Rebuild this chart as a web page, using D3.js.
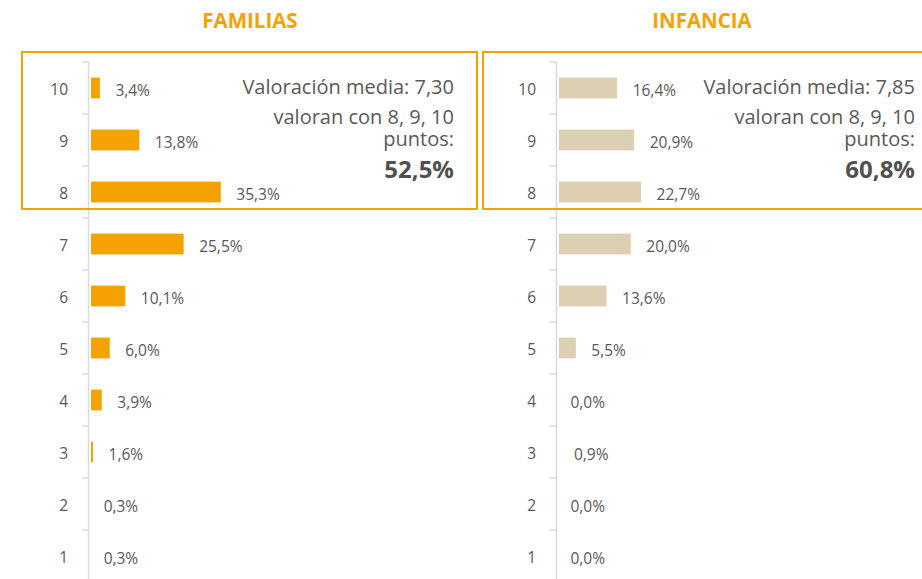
<!DOCTYPE html>
<html>
<head>
<meta charset="utf-8">
<script src="https://cdn.jsdelivr.net/npm/d3@7"></script>
<style>
  body { margin: 0; background: #fff; }
  text { font-family: "Open Sans", sans-serif; }
</style>
</head>
<body>
<script>
// datos
var categories = ["10", "9", "8", "7", "6", "5", "4", "3", "2", "1"];
var familias = [3.4, 13.8, 35.3, 25.5, 10.1, 6.0, 3.9, 1.6, 0.3, 0.3];
var infancia = [16.4, 20.9, 22.7, 20.0, 13.6, 5.5, 0.0, 0.9, 0.0, 0.0];
var titles = ["FAMILIAS", "INFANCIA"];
var medias = ["7,30", "7,85"];
var top3 = ["52,5%", "60,8%"];

var locale = d3.formatLocale({decimal: ",", thousands: ".", grouping: [3], currency: ["", "€"]});
var fmt = locale.format(".1f");

var orange = "#f5a200";
var beige = "#ddcfb2";
var grey = "#595959";

var svg = d3.select("body")
            .append("svg")
            .attr("width", 922)
            .attr("height", 579);

// posiciones de cada panel
var panels = [
    {values: familias, color: orange, x0: 87, box: 22, titleX: 250, textX: 454},
    {values: infancia, color: beige, x0: 555, box: 483, titleX: 702, textX: 915}
];

var y = d3.scaleBand()
    .domain(categories)
    .range([62, 582])
    .paddingInner(0.6)
    .paddingOuter(0.3);

panels.forEach(function(p, i) {
    var x = d3.scaleLinear().domain([0, 100]).range([p.x0, p.x0 + 379]);
    var g = svg.append("g");

    // titulo
    g.append("text")
        .attr("x", p.titleX)
        .attr("y", 28)
        .attr("text-anchor", "middle")
        .attr("font-size", 20.5)
        .attr("font-weight", 700)
        .attr("fill", orange)
        .text(titles[i]);

    // eje
    g.append("line")
        .attr("x1", x(0) + 1.5)
        .attr("x2", x(0) + 1.5)
        .attr("y1", y.range()[0])
        .attr("y2", y.range()[1])
        .attr("stroke", "#d9d9d9")
        .attr("stroke-width", 1.5);

    g.selectAll(".tick")
        .data(categories.concat(["fin"]))
        .enter().append("line")
        .attr("x1", x(0) - 5)
        .attr("x2", x(0) + 1.5)
        .attr("y1", function(d, j) { return y.range()[0] + j * y.step(); })
        .attr("y2", function(d, j) { return y.range()[0] + j * y.step(); })
        .attr("stroke", "#d9d9d9")
        .attr("stroke-width", 1.5);

    g.selectAll(".cat")
        .data(categories)
        .enter().append("text")
        .attr("x", x(0) - 19)
        .attr("y", function(d) { return y(d) + y.bandwidth() / 2 + 7; })
        .attr("text-anchor", "end")
        .attr("font-size", 15.5)
        .attr("fill", grey)
        .text(function(d) { return d; });

    // barras
    g.selectAll(".bar")
        .data(p.values)
        .enter().append("rect")
        .attr("x", x(0) + 4)
        .attr("y", function(d, j) { return y(categories[j]); })
        .attr("width", function(d) { return Math.max(0, x(d) - x(0) - 4); })
        .attr("height", y.bandwidth())
        .attr("fill", p.color);

    g.selectAll(".lab")
        .data(p.values)
        .enter().append("text")
        .attr("x", function(d) { return x(d) + 15.5; })
        .attr("y", function(d, j) { return y(categories[j]) + y.bandwidth() / 2 + 7.5; })
        .attr("font-size", 15.5)
        .attr("fill", grey)
        .text(function(d) { return fmt(d) + "%"; });

    // recuadro 8-9-10
    g.append("rect")
        .attr("x", p.box)
        .attr("y", 52)
        .attr("width", 455)
        .attr("height", 157)
        .attr("fill", "none")
        .attr("stroke", orange)
        .attr("stroke-width", 2);

    var lines = ["Valoración media: " + medias[i], "valoran con 8, 9, 10", "puntos:"];
    var ys = [94, 124, 146];
    lines.forEach(function(t, k) {
        g.append("text")
            .attr("x", p.textX)
            .attr("y", ys[k])
            .attr("text-anchor", "end")
            .attr("font-size", 20)
            .attr("fill", grey)
            .text(t);
    });
    g.append("text")
        .attr("x", p.textX)
        .attr("y", 178)
        .attr("text-anchor", "end")
        .attr("font-size", 24)
        .attr("font-weight", 700)
        .attr("fill", "#505050")
        .text(top3[i]);
});
</script>
</body>
</html>
